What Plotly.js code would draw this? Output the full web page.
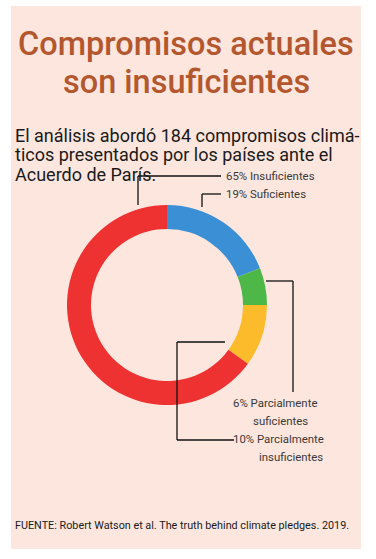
<!DOCTYPE html>
<html>
<head>
<meta charset="utf-8">
<script src="https://cdn.plot.ly/plotly-3.0.1.min.js"></script>
<style>html,body{margin:0;padding:0;background:#fff;}#chart{width:376px;height:559px;}</style>
</head>
<body>
<div id="chart"></div>
<script>
// Data
const categories = ["Suficientes", "Parcialmente suficientes", "Parcialmente insuficientes", "Insuficientes"];
const shares = [19, 6, 10, 65];
const colors = ["#3b8fd5", "#4db848", "#fbbb2b", "#ed3231"];
const labelLines = [
  ["19% Suficientes"],
  ["6% Parcialmente", "suficientes"],
  ["10% Parcialmente", "insuficientes"],
  ["65% Insuficientes"]
];

const W = 376, H = 559;
const px = x => x / W;
const py = y => 1 - y / H;
const font = 'Roboto, "Noto Sans", sans-serif';

const trace = {
  type: 'pie',
  values: shares,
  labels: categories,
  marker: {colors: colors, line: {width: 0}},
  hole: 0.76,
  sort: false,
  direction: 'clockwise',
  rotation: 0,
  textinfo: 'none',
  hoverinfo: 'label+percent',
  showlegend: false,
  domain: {x: [px(67), px(267)], y: [py(405), py(205)]}
};

function line(x0, y0, x1, y1) {
  return {type: 'line', xref: 'paper', yref: 'paper', x0: px(x0), y0: py(y0), x1: px(x1), y1: py(y1),
          line: {color: '#111', width: 1.3}};
}
function txt(text, x, y, size, color, anchor, weight) {
  return {text: text, xref: 'paper', yref: 'paper', x: px(x), y: py(y), xanchor: anchor || 'left', yanchor: 'middle',
          showarrow: false, font: {size: size, color: color, family: font, weight: weight || 'normal'}};
}

const shapes = [
  {type: 'rect', xref: 'paper', yref: 'paper', x0: px(11), x1: px(361), y0: py(549), y1: py(6),
   fillcolor: '#fce6dd', line: {width: 0}, layer: 'below'},
  // 65% Insuficientes
  line(138, 176, 138, 205), line(138, 176, 221, 176),
  // 19% Suficientes
  line(202, 194, 202, 207), line(202, 194, 221, 194),
  // 6% Parcialmente suficientes
  line(266, 281, 293, 281), line(293, 281, 293, 392),
  // 10% Parcialmente insuficientes
  line(225, 342, 177, 342), line(177, 342, 177, 440), line(177, 440, 234, 440)
];

const lab = '#3a3a3a';
const annotations = [
  txt('Compromisos actuales', 186, 44, 32.5, '#b3572f', 'center', 500),
  txt('son insuficientes', 186, 82, 32.5, '#b3572f', 'center', 500),
  txt('El análisis abordó 184 compromisos climá-', 13, 135, 18, '#1a1a1a'),
  txt('ticos presentados por los países ante el', 13, 155, 18, '#1a1a1a'),
  txt('Acuerdo de París.', 13, 175, 18, '#1a1a1a'),
  txt(labelLines[3][0], 224, 176, 11.4, lab),
  txt(labelLines[0][0], 224, 194, 11.4, lab),
  txt(labelLines[1][0], 231, 403, 11.4, lab),
  txt(labelLines[1][1], 251, 421, 11.4, lab),
  txt(labelLines[2][0], 231, 439, 11.4, lab),
  txt(labelLines[2][1], 257, 457, 11.4, lab),
  txt('FUENTE: Robert Watson et al. The truth behind climate pledges. 2019.', 13, 525, 10.8, '#1a1a1a')
];

const layout = {
  width: W, height: H,
  margin: {l: 0, r: 0, t: 0, b: 0},
  paper_bgcolor: '#ffffff',
  plot_bgcolor: 'rgba(0,0,0,0)',
  shapes: shapes,
  annotations: annotations,
  showlegend: false
};

Plotly.newPlot('chart', [trace], layout, {displayModeBar: false, staticPlot: true});
</script>
</body>
</html>
